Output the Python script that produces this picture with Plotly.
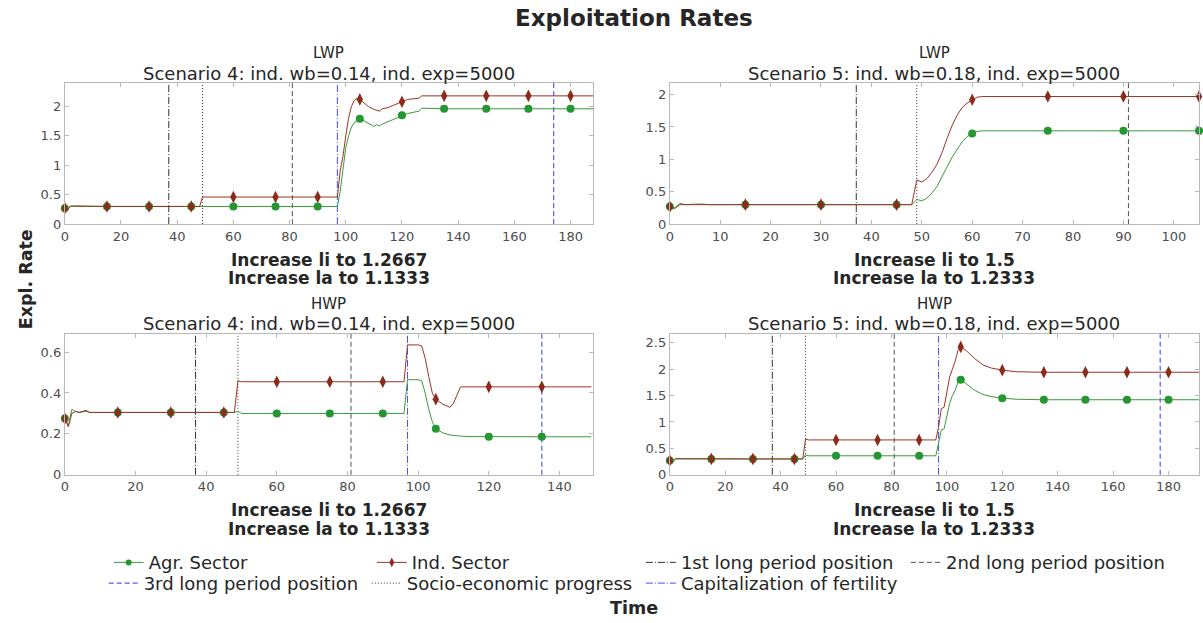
import plotly.graph_objects as go

# ---- data -------------------------------------------------------------
# Panel A: LWP, Scenario 4
t_a = [0, 1, 2, 3, 15, 30, 45, 48, 49, 60, 75, 90, 97, 98, 99, 100, 101, 102, 103, 104,
       105, 106, 108, 110, 111, 112, 113, 115, 117, 120, 122, 124, 126, 127, 135, 150, 165, 180, 188]
agr_a = [0.27, 0.25, 0.31, 0.30, 0.30, 0.30, 0.30, 0.30, 0.30, 0.30, 0.30, 0.30, 0.30, 0.55, 0.95,
         1.30, 1.50, 1.65, 1.72, 1.76, 1.79, 1.77, 1.72, 1.66, 1.69, 1.67, 1.70, 1.74, 1.78, 1.85,
         1.88, 1.90, 1.92, 1.97, 1.96, 1.96, 1.96, 1.96, 1.96]
ind_a = [0.27, 0.24, 0.30, 0.31, 0.30, 0.30, 0.30, 0.30, 0.46, 0.46, 0.46, 0.46, 0.46, 0.90, 1.15,
         1.50, 1.80, 2.00, 2.10, 2.14, 2.12, 2.08, 2.00, 1.95, 1.93, 1.92, 1.96, 1.98, 2.02, 2.08,
         2.12, 2.13, 2.14, 2.18, 2.18, 2.18, 2.18, 2.18, 2.18]

# Panel B: LWP, Scenario 5
t_b = [0, 1, 2, 3, 6, 8, 15, 30, 45, 48, 49, 50, 51, 52, 53, 54, 55, 56, 57, 58, 59, 60, 61, 62,
       75, 90, 105]
agr_b = [0.27, 0.25, 0.32, 0.30, 0.31, 0.30, 0.30, 0.30, 0.30, 0.30, 0.38, 0.36, 0.40, 0.48, 0.58,
         0.72, 0.88, 1.03, 1.16, 1.27, 1.35, 1.40, 1.43, 1.44, 1.44, 1.44, 1.44]
ind_b = [0.27, 0.24, 0.30, 0.30, 0.31, 0.30, 0.30, 0.30, 0.30, 0.30, 0.68, 0.65, 0.70, 0.80, 0.92,
         1.10, 1.32, 1.52, 1.68, 1.80, 1.87, 1.92, 1.96, 1.97, 1.97, 1.97, 1.97]

# Panel C: HWP, Scenario 4
t_c = [0, 1, 2, 3, 4, 6, 7, 15, 30, 45, 48, 49, 50, 60, 75, 90, 96, 97, 100, 101, 102, 103, 104,
       105, 107, 109, 110, 111, 112, 115, 120, 135, 149]
agr_c = [0.275, 0.24, 0.32, 0.31, 0.305, 0.31, 0.305, 0.305, 0.305, 0.305, 0.305, 0.31, 0.30, 0.30,
         0.30, 0.30, 0.30, 0.465, 0.465, 0.46, 0.40, 0.32, 0.26, 0.225, 0.205, 0.195, 0.192, 0.19,
         0.189, 0.187, 0.186, 0.186, 0.186]
ind_c = [0.275, 0.235, 0.30, 0.31, 0.305, 0.315, 0.305, 0.305, 0.305, 0.305, 0.305, 0.46, 0.455,
         0.455, 0.455, 0.455, 0.455, 0.635, 0.635, 0.63, 0.57, 0.48, 0.40, 0.37, 0.345, 0.33, 0.35,
         0.39, 0.43, 0.43, 0.43, 0.43, 0.43]

# Panel D: HWP, Scenario 5
t_d = [0, 1, 2, 15, 30, 45, 48, 49, 50, 60, 75, 90, 96, 97, 98, 99, 100, 101, 102, 103, 104, 105,
       107, 110, 113, 116, 120, 125, 135, 150, 165, 180, 191]
agr_d = [0.27, 0.25, 0.31, 0.30, 0.30, 0.30, 0.30, 0.38, 0.36, 0.36, 0.36, 0.36, 0.36, 0.60, 0.85,
         0.87, 1.10, 1.35, 1.50, 1.60, 1.75, 1.80, 1.72, 1.60, 1.52, 1.48, 1.45, 1.43, 1.42, 1.42,
         1.42, 1.42, 1.42]
ind_d = [0.27, 0.24, 0.30, 0.30, 0.30, 0.30, 0.30, 0.68, 0.66, 0.66, 0.66, 0.66, 0.66, 0.90, 1.25,
         1.28, 1.55, 1.85, 2.00, 2.15, 2.35, 2.42, 2.35, 2.20, 2.08, 2.02, 1.98, 1.95, 1.94, 1.94,
         1.94, 1.94, 1.94]

# period markers (vertical reference lines) per panel
first_long = [37, 37, 37, 37]
socio_prog = [49, 49, 49, 49]
second_long = [81, 91, 81, 81]
capital_fert = [97, None, 97, 97]
third_long = [174, None, 135, 177]

group_names = ["LWP", "LWP", "HWP", "HWP"]
scenario_titles = ["Scenario 4: ind. wb=0.14, ind. exp=5000",
                   "Scenario 5: ind. wb=0.18, ind. exp=5000",
                   "Scenario 4: ind. wb=0.14, ind. exp=5000",
                   "Scenario 5: ind. wb=0.18, ind. exp=5000"]
li_notes = ["Increase li to 1.2667", "Increase li to 1.5",
            "Increase li to 1.2667", "Increase li to 1.5"]
la_notes = ["Increase la to 1.1333", "Increase la to 1.2333",
            "Increase la to 1.1333", "Increase la to 1.2333"]
x_ranges = [[0, 188], [0, 105], [0, 149.5], [0, 191]]
y_ranges = [[0, 2.4], [0, 2.18], [0, 0.69], [0, 2.67]]
y_dticks = [0.5, 0.5, 0.2, 0.5]
x_dticks = [20, 10, 20, 20]

series = [(t_a, agr_a, ind_a), (t_b, agr_b, ind_b), (t_c, agr_c, ind_c), (t_d, agr_d, ind_d)]

# ---- layout geometry (pixels) ----------------------------------------
W, H = 1203, 623
col_px = [(61, 591), (668, 1199)]
row_px = [(84, 227), (338, 481)]

AGR_LINE, AGR_MK = "#3a9a3a", "#249632"
IND_LINE, IND_MK = "#9a3426", "#8c2a1c"
FONT = "DejaVu Sans"
TEXT = "#262626"

vline_styles = {
    "1st long period position": dict(color="#333333", dash="7px,2px,1px,2px", width=1),
    "2nd long period position": dict(color="#555555", dash="5px,3px", width=1),
    "3rd long period position": dict(color="#5c5cff", dash="5px,3px", width=1.2),
    "Socio-economic progress": dict(color="#333333", dash="1px,2px", width=1),
    "Capitalization of fertility": dict(color="#4a4aff", dash="7px,2px,1px,2px", width=1),
}


def note(x_px, y_px, text, size, bold=False, angle=0):
    """Centered paper-space text placed by pixel position."""
    fig.add_annotation(x=x_px / W, y=1 - y_px / H, xref="paper", yref="paper",
                       xanchor="center", yanchor="middle", textangle=angle,
                       text=("<b>%s</b>" % text) if bold else text, showarrow=False,
                       font=dict(family=FONT, size=size, color=TEXT))


fig = go.Figure()

for i in range(4):
    r, c = divmod(i, 2)
    ax = "" if i == 0 else str(i + 1)
    xa, ya = "x" + ax, "y" + ax
    x0p, x1p = col_px[c]
    y0p, y1p = row_px[r]
    axis_common = dict(showgrid=False, zeroline=False, showline=True, mirror="ticks",
                       linecolor="#b8b8b8", linewidth=1, ticks="inside", ticklen=4,
                       tickcolor="#b8b8b8", tick0=0,
                       tickfont=dict(family=FONT, size=13, color="#4d4d4d"))
    fig.layout["xaxis" + ax] = dict(domain=[x0p / W, x1p / W], anchor=ya, range=x_ranges[i],
                                    dtick=x_dticks[i], **axis_common)
    fig.layout["yaxis" + ax] = dict(domain=[1 - y1p / H, 1 - y0p / H], anchor=xa,
                                    range=y_ranges[i], dtick=y_dticks[i], **axis_common)

    # reference lines drawn across the full panel height
    for name, pos in [("1st long period position", first_long[i]),
                      ("Socio-economic progress", socio_prog[i]),
                      ("2nd long period position", second_long[i]),
                      ("Capitalization of fertility", capital_fert[i]),
                      ("3rd long period position", third_long[i])]:
        if pos is None:
            continue
        fig.add_shape(type="line", xref=xa, yref=ya + " domain", x0=pos, x1=pos, y0=0, y1=1,
                      line=vline_styles[name], layer="below")

    t, agr, ind = series[i]
    mk_t = [tt for tt in t if tt % 15 == 0]
    agr_mk = [v for tt, v in zip(t, agr) if tt % 15 == 0]
    ind_mk = [v for tt, v in zip(t, ind) if tt % 15 == 0]

    fig.add_trace(go.Scatter(x=t, y=agr, mode="lines", line=dict(color=AGR_LINE, width=1),
                             xaxis=xa, yaxis=ya, showlegend=False, hoverinfo="skip"))
    fig.add_trace(go.Scatter(x=mk_t, y=agr_mk, mode="markers", xaxis=xa, yaxis=ya,
                             marker=dict(symbol="circle", size=8, color=AGR_MK),
                             showlegend=False, cliponaxis=False))
    fig.add_trace(go.Scatter(x=t, y=ind, mode="lines", line=dict(color=IND_LINE, width=1),
                             xaxis=xa, yaxis=ya, showlegend=False, hoverinfo="skip"))
    fig.add_trace(go.Scatter(x=mk_t, y=ind_mk, mode="markers", xaxis=xa, yaxis=ya,
                             marker=dict(symbol="diamond-tall", size=9, color=IND_MK),
                             showlegend=False, cliponaxis=False))

# ---- legend: one legend box per entry, laid out in two rows ------------
legend_entries = [
    ("Agr. Sector", dict(mode="lines+markers", line=dict(color=AGR_LINE, width=1),
                         marker=dict(symbol="circle", size=6, color=AGR_MK)), 147, 563),
    ("Ind. Sector", dict(mode="lines+markers", line=dict(color=IND_LINE, width=1),
                         marker=dict(symbol="diamond-tall", size=7, color=IND_MK)), 411, 563),
    ("1st long period position", dict(mode="lines", line=vline_styles["1st long period position"]), 681, 563),
    ("2nd long period position", dict(mode="lines", line=vline_styles["2nd long period position"]), 947, 563),
    ("3rd long period position", dict(mode="lines", line=vline_styles["3rd long period position"]), 142, 584),
    ("Socio-economic progress", dict(mode="lines", line=vline_styles["Socio-economic progress"]), 406, 584),
    ("Capitalization of fertility", dict(mode="lines", line=vline_styles["Capitalization of fertility"]), 681, 584),
]
for k, (name, style, tx, ty) in enumerate(legend_entries):
    lg = "legend" if k == 0 else "legend%d" % (k + 1)
    fig.add_trace(go.Scatter(x=[None], y=[None], name=name, legend=lg, showlegend=True, **style))
    fig.layout[lg] = dict(x=(tx - 42) / W, y=1 - (ty + 7) / H, xanchor="left", yanchor="middle",
                          orientation="h", bgcolor="rgba(0,0,0,0)", borderwidth=0,
                          font=dict(family=FONT, size=18, color=TEXT),
                          itemwidth=30, tracegroupgap=0)

# panel titles and per-panel notes below the x axis
for i in range(4):
    r, c = divmod(i, 2)
    cx = sum(col_px[c]) / 2
    top, bottom = row_px[r]
    note(cx, top - 30, group_names[i], 15)
    note(cx, top - 10, scenario_titles[i], 18)
    note(cx, bottom + 36, li_notes[i], 17, bold=True)
    note(cx, bottom + 55, la_notes[i], 17, bold=True)

note(632, 18, "Exploitation Rates", 23, bold=True)
note(22, 283, "Expl. Rate", 17.5, bold=True, angle=-90)
note(632, 616, "Time", 17.5, bold=True)

fig.update_layout(width=W, height=H, margin=dict(l=0, r=0, t=0, b=0),
                  paper_bgcolor="white", plot_bgcolor="white", hovermode=False)

fig.write_html("out.html")
